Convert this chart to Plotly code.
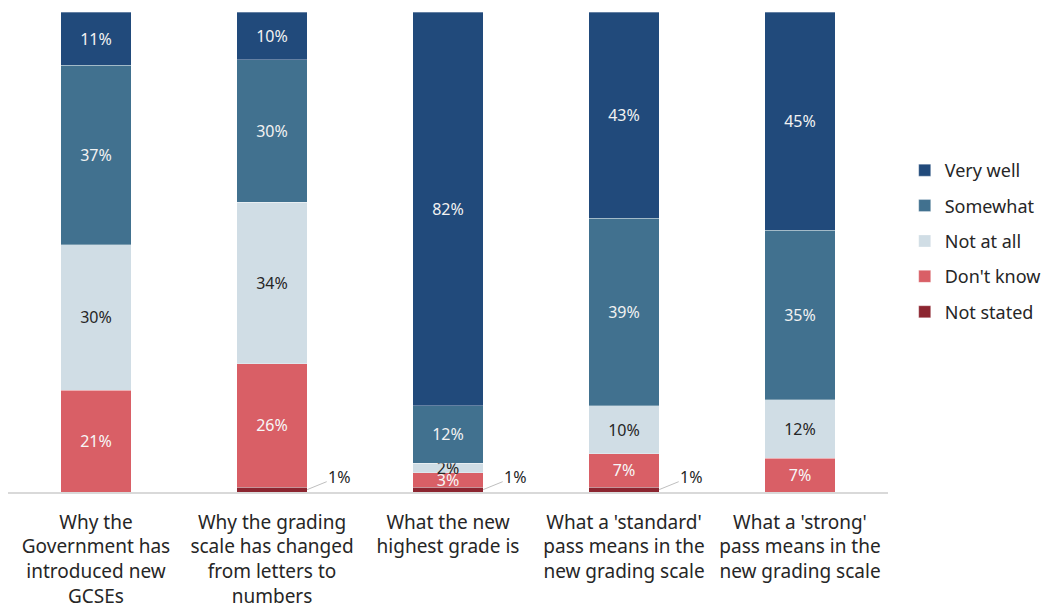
import plotly.graph_objects as go

categories = [
    "Why the<br>Government has<br>introduced new<br>GCSEs",
    "Why the grading<br>scale has changed<br>from letters to<br>numbers",
    "What the new<br>highest grade is",
    "What a 'standard'<br>pass means in the<br>new grading scale",
    "What a 'strong'<br>pass means in the<br>new grading scale",
]
not_stated = [0, 1, 1, 1, 0]
dont_know = [21, 26, 3, 7, 7]
not_at_all = [30, 34, 2, 10, 12]
somewhat = [37, 30, 12, 39, 35]
very_well = [11, 10, 82, 43, 45]

series = [
    ("Not stated", not_stated, "#8c2530", "#ffffff", False),
    ("Don't know", dont_know, "#d95f66", "#f7f7f7", True),
    ("Not at all", not_at_all, "#d0dde5", "#262626", True),
    ("Somewhat", somewhat, "#41718f", "#f2f2f2", True),
    ("Very well", very_well, "#214a7b", "#f2f2f2", True),
]

x = list(range(len(categories)))
fig = go.Figure()
for i, (name, vals, color, tcol, show_text) in enumerate(series):
    fig.add_trace(go.Bar(
        x=x, y=vals, name=name, legendgroup=name,
        legendrank=1000 - i,
        marker=dict(color=color, line=dict(color="rgba(255,255,255,0.6)", width=0.5)),
        text=[f"{v}%" if show_text and v > 0 else "" for v in vals],
        textposition="inside", insidetextanchor="middle",
        constraintext="none",
        textfont=dict(color=tcol, size=16, family="Noto Sans"),
        hoverinfo="skip",
    ))

# small "Not stated" values labelled outside with a leader line
for i, v in enumerate(not_stated):
    if v > 0:
        fig.add_annotation(
            x=i + 0.2, y=v / 2, text=f"{v}%", showarrow=True, arrowhead=0,
            arrowcolor="#bfbfbf", arrowwidth=1, ax=32, ay=-13,
            font=dict(size=16, color="#262626", family="Noto Sans"),
        )

fig.update_layout(
    barmode="stack", barnorm="percent", bargap=0.6,
    width=1053, height=615,
    margin=dict(l=0, r=173, t=4, b=131),
    plot_bgcolor="white", paper_bgcolor="white",
    font=dict(family="Noto Sans", color="#262626"),
    legend=dict(
        traceorder="grouped", x=1.019, xanchor="left", y=0.523, yanchor="middle",
        font=dict(size=18, color="#262626"), tracegroupgap=9,
    ),
    xaxis=dict(
        tickmode="array", tickvals=x, ticktext=categories,
        range=[-0.5, 4.5], showline=True, linecolor="#d9d9d9", linewidth=1.5,
        ticks="", tickfont=dict(size=19, color="#262626"), ticklabelstandoff=12,
    ),
    yaxis=dict(range=[0, 100], visible=False, showgrid=False),
)

fig.write_html("out.html")
